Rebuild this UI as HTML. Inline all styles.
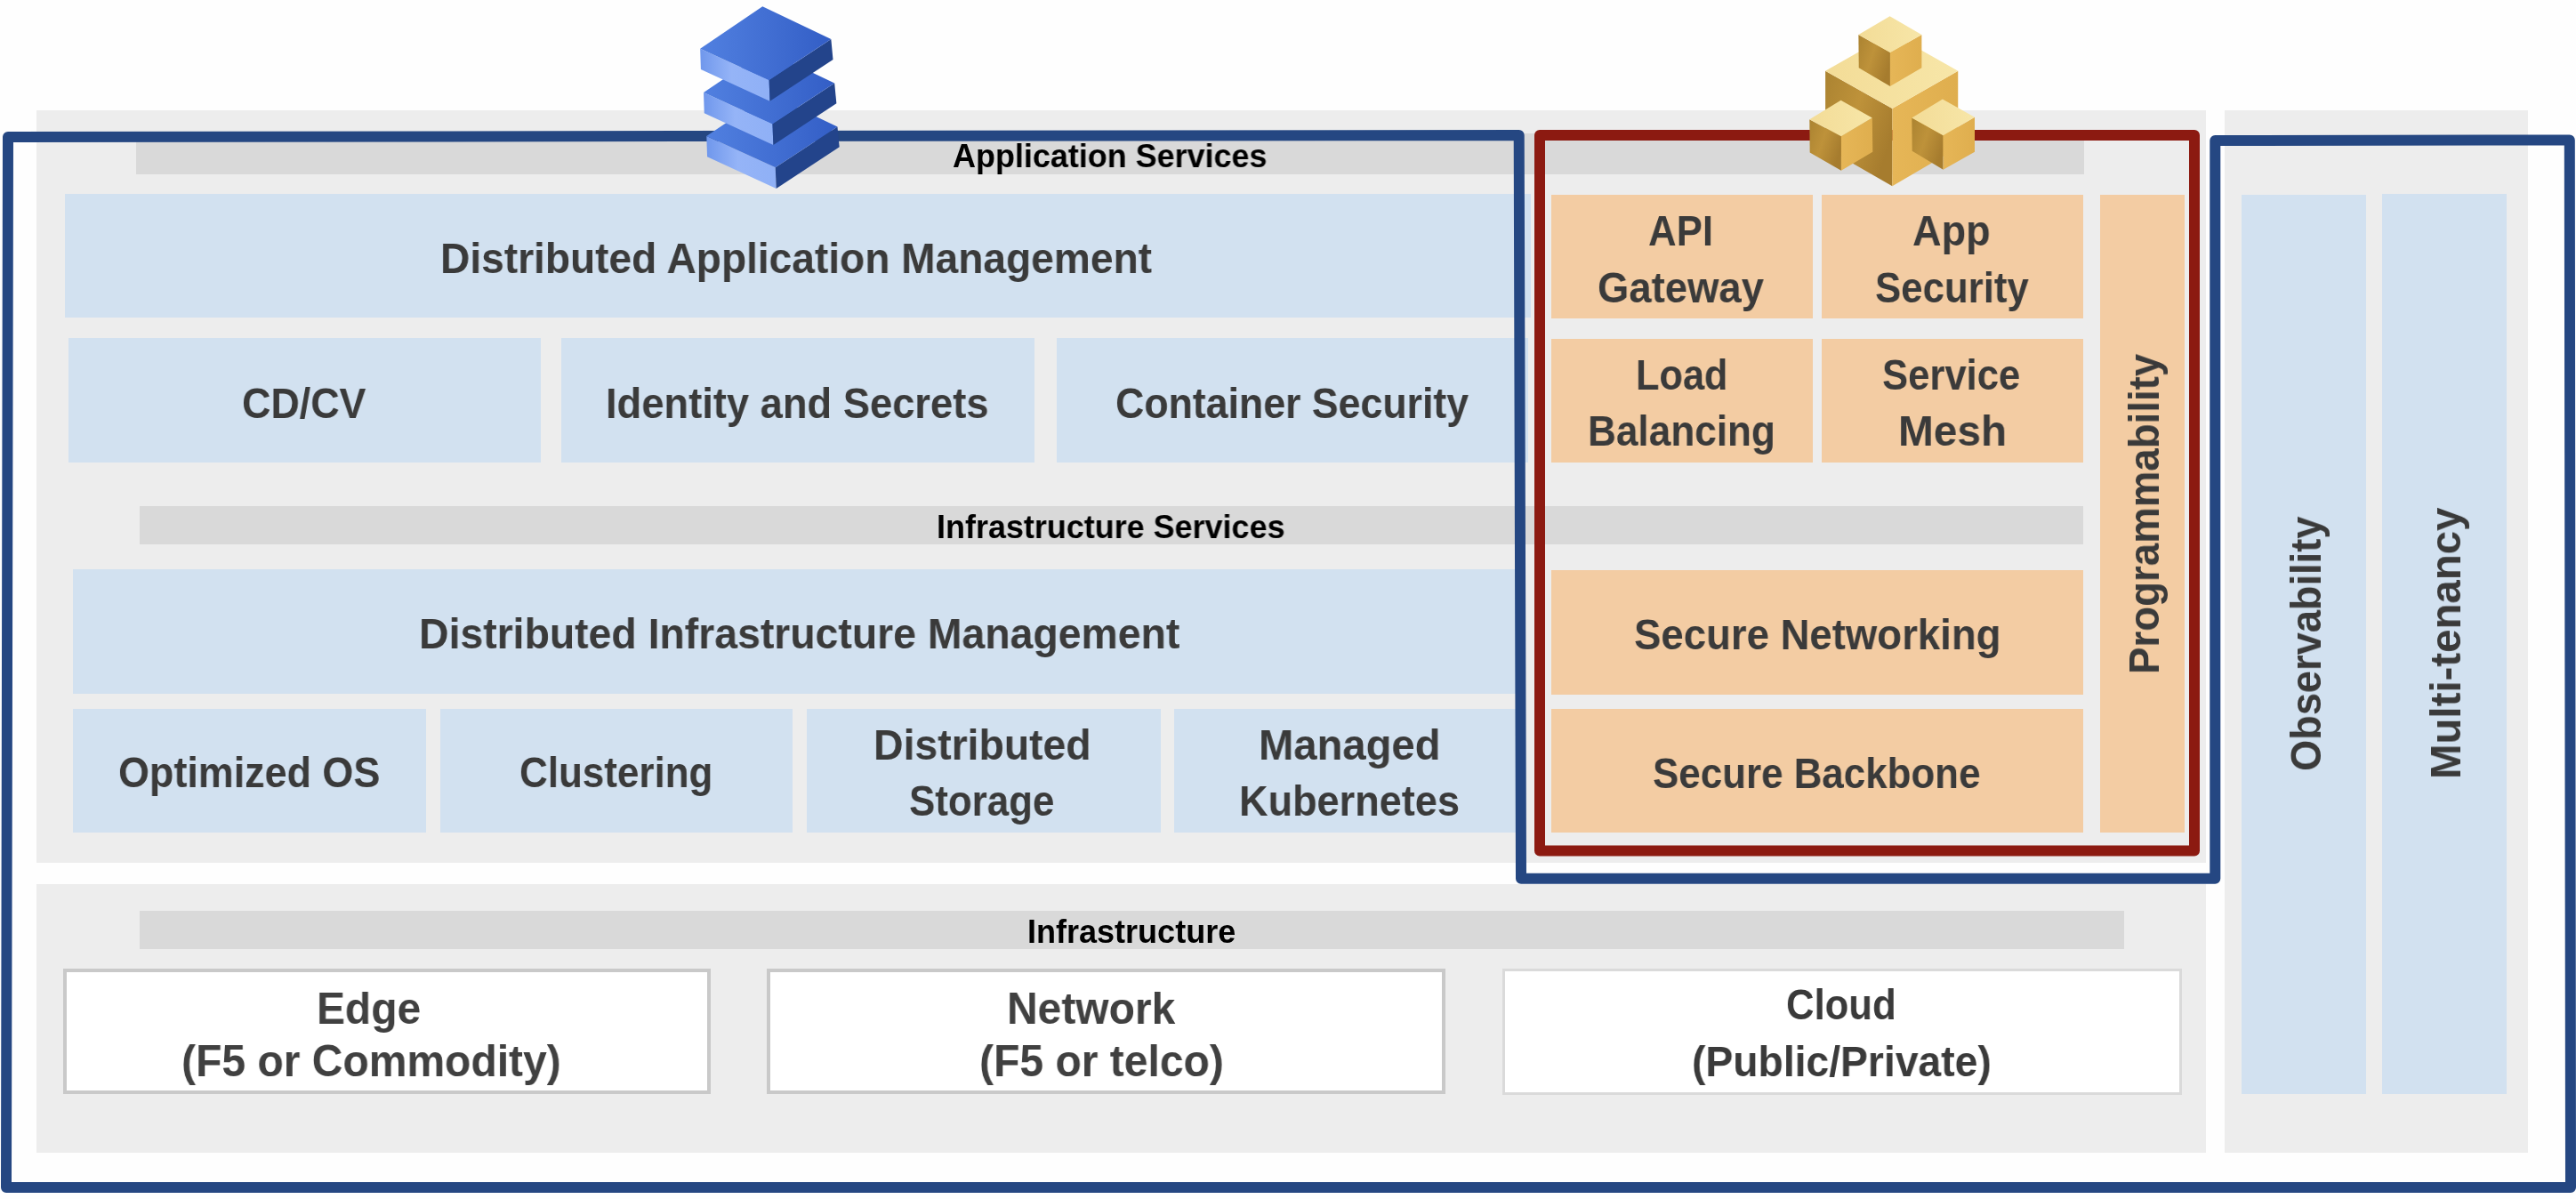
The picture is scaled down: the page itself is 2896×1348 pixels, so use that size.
<!DOCTYPE html>
<html lang="en">
<head>
<meta charset="utf-8">
<title>Distributed Cloud Platform Architecture</title>
<style>
html,body{margin:0;padding:0;}
body{width:2896px;height:1348px;background:#fefefe;position:relative;overflow:hidden;
font-family:"Liberation Sans",sans-serif;font-weight:bold;}
.r{position:absolute;}
.w{position:absolute;background:#fff;box-sizing:border-box;border-style:solid;}
.t{position:absolute;white-space:nowrap;line-height:1;transform-origin:0 0;will-change:transform;}
svg{position:absolute;left:0;top:0;}
</style>
</head>
<body>
<div class="r" style="left:41px;top:124px;width:2438.5px;height:846px;background:#ededed"></div>
<div class="r" style="left:41px;top:994px;width:2439px;height:302px;background:#ededed"></div>
<div class="r" style="left:2501px;top:124px;width:341px;height:1172px;background:#ededed"></div>
<div class="r" style="left:153px;top:150px;width:2190px;height:45.5px;background:#d9d9d9"></div>
<div class="r" style="left:157px;top:569px;width:2185px;height:43px;background:#d9d9d9"></div>
<div class="r" style="left:157px;top:1024px;width:2231px;height:43px;background:#d9d9d9"></div>
<div class="r" style="left:73px;top:217.5px;width:1648px;height:139.5px;background:#d2e1f0"></div>
<div class="r" style="left:76.5px;top:380px;width:531px;height:139.5px;background:#d2e1f0"></div>
<div class="r" style="left:631px;top:380px;width:532px;height:139.5px;background:#d2e1f0"></div>
<div class="r" style="left:1188px;top:380px;width:530px;height:139.5px;background:#d2e1f0"></div>
<div class="r" style="left:82px;top:640px;width:1632px;height:140px;background:#d2e1f0"></div>
<div class="r" style="left:82px;top:796.5px;width:397px;height:139.5px;background:#d2e1f0"></div>
<div class="r" style="left:494.5px;top:796.5px;width:396.5px;height:139.5px;background:#d2e1f0"></div>
<div class="r" style="left:907px;top:796.5px;width:397.5px;height:139.5px;background:#d2e1f0"></div>
<div class="r" style="left:1320px;top:796.5px;width:394px;height:139.5px;background:#d2e1f0"></div>
<div class="r" style="left:2520px;top:219px;width:140px;height:1010.5px;background:#d2e1f0"></div>
<div class="r" style="left:2678px;top:217.5px;width:140px;height:1012px;background:#d2e1f0"></div>
<div class="r" style="left:1744px;top:219px;width:294px;height:139px;background:#f3cca3"></div>
<div class="r" style="left:2048px;top:219px;width:294px;height:139px;background:#f3cca3"></div>
<div class="r" style="left:1744px;top:381px;width:294px;height:139px;background:#f3cca3"></div>
<div class="r" style="left:2048px;top:381px;width:294px;height:139px;background:#f3cca3"></div>
<div class="r" style="left:1744px;top:641px;width:598px;height:140px;background:#f3cca3"></div>
<div class="r" style="left:1744px;top:796.5px;width:598px;height:139.5px;background:#f3cca3"></div>
<div class="r" style="left:2360.5px;top:219px;width:95.5px;height:717px;background:#f3cca3"></div>
<div class="w" style="left:71px;top:1088.5px;width:727.5px;height:141.5px;border-width:4px;border-color:#c9c9c9"></div>
<div class="w" style="left:861.5px;top:1088.5px;width:763px;height:141.5px;border-width:4px;border-color:#c9c9c9"></div>
<div class="w" style="left:1688.5px;top:1088.5px;width:764.5px;height:142px;border-width:3.5px;border-color:#dadada"></div>
<svg width="2896" height="1348" viewBox="0 0 2896 1348">
<defs>
<linearGradient id="bt" x1="0" y1="0" x2="1" y2="0"><stop offset="0" stop-color="#5180e0"/><stop offset="1" stop-color="#335ec6"/></linearGradient>
<linearGradient id="bl" x1="0" y1="0" x2="1" y2="0"><stop offset="0" stop-color="#6f97ec"/><stop offset="0.45" stop-color="#95b4f7"/><stop offset="1" stop-color="#8fb0f6"/></linearGradient>
<linearGradient id="gt" x1="0" y1="0" x2="1" y2="0"><stop offset="0" stop-color="#f3dc97"/><stop offset="1" stop-color="#f7e6a8"/></linearGradient>
<linearGradient id="gl" x1="0" y1="0" x2="1" y2="0.55"><stop offset="0" stop-color="#ab8331"/><stop offset="0.5" stop-color="#be923a"/><stop offset="1" stop-color="#a67c2e"/></linearGradient>
<linearGradient id="gr" x1="0" y1="0" x2="1" y2="0"><stop offset="0" stop-color="#e6b657"/><stop offset="1" stop-color="#dfae4e"/></linearGradient>
</defs>
<polygon points="9,154 1707.7,152 1710,987.7 2490.3,987.7 2490.3,158 2888.8,157.5 2890,1335 7,1335" fill="none" stroke="#254782" stroke-width="12" stroke-linejoin="round"/>
<polygon points="1731,152 2467,152 2467,956.5 1731,956.5" fill="none" stroke="#8c1a11" stroke-width="12" stroke-linejoin="round"/>
<polygon points="794.31,153.03 871.74,188.26 872.66,212.11 795.05,176.33" fill="url(#bl)"/>
<polygon points="871.74,188.26 941.47,142.39 943.67,165.32 872.66,212.11" fill="#23448b"/>
<polygon points="864.4,105.69 941.47,142.39 871.74,188.26 794.31,153.03" fill="url(#bt)"/>
<polygon points="791.01,104.04 868.44,139.27 869.36,163.12 791.74,127.34" fill="url(#bl)"/>
<polygon points="868.44,139.27 938.17,93.39 940.37,116.33 869.36,163.12" fill="#23448b"/>
<polygon points="861.1,56.7 938.17,93.39 868.44,139.27 791.01,104.04" fill="url(#bt)"/>
<polygon points="787.16,54.68 864.59,89.91 865.5,113.76 787.89,77.98" fill="url(#bl)"/>
<polygon points="864.59,89.91 934.31,44.04 936.51,66.97 865.5,113.76" fill="#23448b"/>
<polygon points="857.25,7.34 934.31,44.04 864.59,89.91 787.16,54.68" fill="url(#bt)"/>
<polygon points="2052.11,79.82 2127.34,122.02 2127.34,209.17 2052.11,166.06" fill="url(#gl)"/>
<polygon points="2127.34,122.02 2201.28,79.82 2201.28,166.06 2127.34,209.17" fill="url(#gr)"/>
<polygon points="2126.42,37.61 2201.28,79.82 2127.34,122.02 2052.11,79.82" fill="url(#gt)"/>
<polygon points="2089.36,38.9 2124.95,59.08 2124.95,96.88 2089.72,76.15" fill="url(#gl)"/>
<polygon points="2124.95,59.08 2160.37,38.9 2160.37,76.15 2124.95,96.88" fill="url(#gr)"/>
<polygon points="2124.59,18.35 2160.37,38.9 2124.95,59.08 2089.36,38.9" fill="url(#gt)"/>
<polygon points="2034.31,134.31 2069.91,153.21 2069.91,191.74 2034.68,171.56" fill="url(#gl)"/>
<polygon points="2069.91,153.21 2104.77,132.48 2105.32,170.64 2069.91,191.74" fill="url(#gr)"/>
<polygon points="2069.54,112.84 2104.77,132.48 2069.91,153.21 2034.31,134.31" fill="url(#gt)"/>
<polygon points="2149.36,132.48 2184.59,152.29 2184.59,190.83 2149.72,169.72" fill="url(#gl)"/>
<polygon points="2184.59,152.29 2220,131.74 2220,170.64 2184.59,190.83" fill="url(#gr)"/>
<polygon points="2183.85,111.56 2220,131.74 2184.59,152.29 2149.36,132.48" fill="url(#gt)"/>
</svg>
<div class="t" style="left:495.12px;top:267px;font-size:48px;color:#3a3a3a;transform:scaleX(0.9604)">Distributed Application Management</div>
<div class="t" style="left:271.57px;top:430px;font-size:48px;color:#3a3a3a;transform:scaleX(0.9337)">CD/CV</div>
<div class="t" style="left:681.17px;top:430px;font-size:48px;color:#3a3a3a;transform:scaleX(0.9436)">Identity and Secrets</div>
<div class="t" style="left:1253.57px;top:430px;font-size:48px;color:#3a3a3a;transform:scaleX(0.9306)">Container Security</div>
<div class="t" style="left:471.1px;top:689px;font-size:48px;color:#3a3a3a;transform:scaleX(0.9659)">Distributed Infrastructure Management</div>
<div class="t" style="left:133.36px;top:845px;font-size:48px;color:#3a3a3a;transform:scaleX(0.9351)">Optimized OS</div>
<div class="t" style="left:583.78px;top:845px;font-size:48px;color:#3a3a3a;transform:scaleX(0.9157)">Clustering</div>
<div class="t" style="left:981.7px;top:814px;font-size:48px;color:#3a3a3a;transform:scaleX(0.9657)">Distributed</div>
<div class="t" style="left:1021.79px;top:877px;font-size:48px;color:#3a3a3a;transform:scaleX(0.9140)">Storage</div>
<div class="t" style="left:1415.25px;top:814px;font-size:48px;color:#3a3a3a;transform:scaleX(0.9827)">Managed</div>
<div class="t" style="left:1393.28px;top:877px;font-size:48px;color:#3a3a3a;transform:scaleX(0.9384)">Kubernetes</div>
<div class="t" style="left:1853.39px;top:236px;font-size:48px;color:#3a3a3a;transform:scaleX(0.9116)">API</div>
<div class="t" style="left:1795.95px;top:300px;font-size:48px;color:#3a3a3a;transform:scaleX(0.9469)">Gateway</div>
<div class="t" style="left:2150.26px;top:236px;font-size:48px;color:#3a3a3a;transform:scaleX(0.9386)">App</div>
<div class="t" style="left:2108.39px;top:300px;font-size:48px;color:#3a3a3a;transform:scaleX(0.9119)">Security</div>
<div class="t" style="left:1839.29px;top:398px;font-size:48px;color:#3a3a3a;transform:scaleX(0.9027)">Load</div>
<div class="t" style="left:1785.24px;top:461px;font-size:48px;color:#3a3a3a;transform:scaleX(0.9194)">Balancing</div>
<div class="t" style="left:2115.89px;top:398px;font-size:48px;color:#3a3a3a;transform:scaleX(0.9088)">Service</div>
<div class="t" style="left:2134.02px;top:461px;font-size:48px;color:#3a3a3a;transform:scaleX(0.9942)">Mesh</div>
<div class="t" style="left:1836.75px;top:690px;font-size:48px;color:#3a3a3a;transform:scaleX(0.9486)">Secure Networking</div>
<div class="t" style="left:1857.69px;top:846px;font-size:48px;color:#3a3a3a;transform:scaleX(0.9146)">Secure Backbone</div>
<div class="t" style="left:2008.09px;top:1106px;font-size:48px;color:#3a3a3a;transform:scaleX(0.9092)">Cloud</div>
<div class="t" style="left:1901.57px;top:1170px;font-size:48px;color:#3a3a3a;transform:scaleX(0.9637)">(Public/Private)</div>
<div class="t" style="left:1071px;top:158px;font-size:36px;color:#000;transform:scaleX(0.9983)">Application Services</div>
<div class="t" style="left:1052.8px;top:575px;font-size:36px;color:#000;transform:scaleX(0.9983)">Infrastructure Services</div>
<div class="t" style="left:1154.6px;top:1030px;font-size:36px;color:#000;transform:scaleX(1.0007)">Infrastructure</div>
<div class="t" style="left:356.02px;top:1109px;font-size:50px;color:#404040;transform:scaleX(0.9583)">Edge</div>
<div class="t" style="left:204.08px;top:1168px;font-size:50px;color:#404040;transform:scaleX(0.9601)">(F5 or Commodity)</div>
<div class="t" style="left:1131.82px;top:1109px;font-size:50px;color:#404040;transform:scaleX(0.9591)">Network</div>
<div class="t" style="left:1101.18px;top:1168px;font-size:50px;color:#404040;transform:scaleX(0.9604)">(F5 or telco)</div>
<div class="t" style="left:2386.87px;top:757.85px;font-size:48px;color:#3a3a3a;transform:rotate(-90deg) scaleX(0.9511)">Programmability</div>
<div class="t" style="left:2569.07px;top:866.64px;font-size:48px;color:#3a3a3a;transform:rotate(-90deg) scaleX(0.9416)">Observability</div>
<div class="t" style="left:2726.37px;top:876.46px;font-size:48px;color:#3a3a3a;transform:rotate(-90deg) scaleX(0.9871)">Multi-tenancy</div>
</body>
</html>
